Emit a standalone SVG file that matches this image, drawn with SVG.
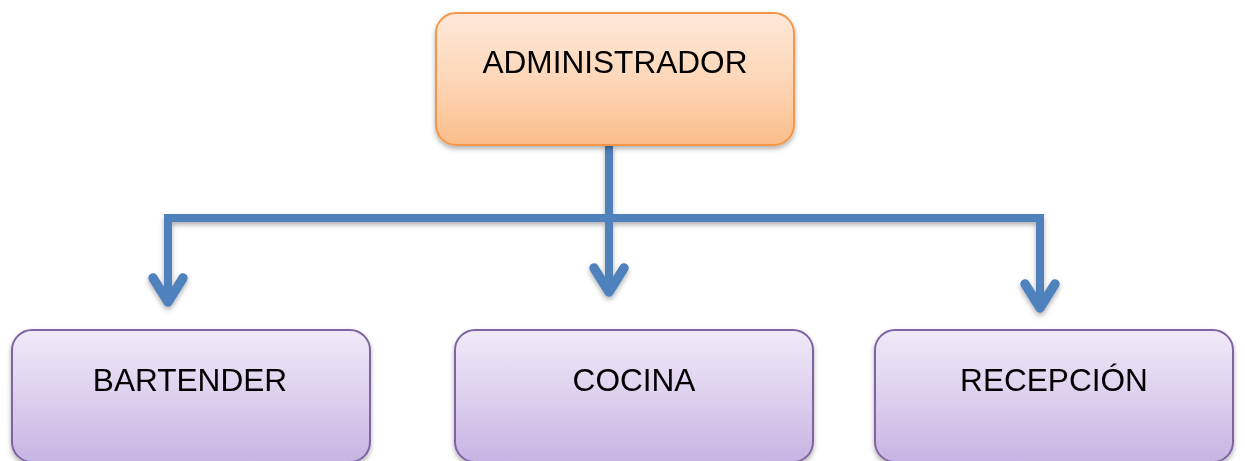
<svg xmlns="http://www.w3.org/2000/svg" width="1245" height="461" viewBox="0 0 1245 461">
<style>
.lbl{font-family:"Liberation Sans",Arial,sans-serif;font-size:31.6px;fill:#000;text-anchor:middle}
.top{fill:url(#gOr);stroke:#f79646;stroke-width:2}
.sub{fill:url(#gPu);stroke:#8064a2;stroke-width:2}
.con{fill:none;stroke:#4f81bd;stroke-width:8}
.arr{fill:none;stroke:#4f81bd;stroke-width:9.5;stroke-linecap:round;stroke-linejoin:round}
</style>
<defs>
<linearGradient id="gOr" x1="0" y1="0" x2="0" y2="1">
<stop offset="0" stop-color="#fee8d9"/>
<stop offset="0.5" stop-color="#fdd7b8"/>
<stop offset="1" stop-color="#fbbd8a"/>
</linearGradient>
<linearGradient id="gPu" x1="0" y1="0" x2="0" y2="1">
<stop offset="0" stop-color="#f0eaf8"/>
<stop offset="0.5" stop-color="#ddd0ee"/>
<stop offset="1" stop-color="#c7b4e3"/>
</linearGradient>
<filter id="sh" x="-10%" y="-10%" width="120%" height="130%">
<feDropShadow dx="0" dy="3" stdDeviation="2.5" flood-color="#000" flood-opacity="0.3"/>
</filter>
<marker id="ah" markerUnits="userSpaceOnUse" markerWidth="60" markerHeight="60" viewBox="-30 -30 60 60" refX="0" refY="0" orient="auto" overflow="visible">
<path class="arr" d="M-24,-15 L0,0 L-24,15"/>
</marker>
</defs>
<g id="connectors" filter="url(#sh)">
<path class="con" d="M609,145 V218"/>
<path class="con" d="M164,218 H1044"/>
<path class="con" d="M168,218 V302" marker-end="url(#ah)"/>
<path class="con" d="M609,218 V292" marker-end="url(#ah)"/>
<path class="con" d="M1040,218 V308" marker-end="url(#ah)"/>
</g>
<g id="administrador" filter="url(#sh)">
<rect class="top" x="436" y="13" width="358" height="132" rx="20"/>
<text class="lbl" x="615" y="73">ADMINISTRADOR</text>
</g>
<g id="bartender" filter="url(#sh)">
<rect class="sub" x="12" y="330" width="358" height="132" rx="20"/>
<text class="lbl" x="190" y="391">BARTENDER</text>
</g>
<g id="cocina" filter="url(#sh)">
<rect class="sub" x="455" y="330" width="358" height="132" rx="20"/>
<text class="lbl" x="634" y="391">COCINA</text>
</g>
<g id="recepcion" filter="url(#sh)">
<rect class="sub" x="875" y="330" width="358" height="132" rx="20"/>
<text class="lbl" x="1054" y="391">RECEPCIÓN</text>
</g>
</svg>
